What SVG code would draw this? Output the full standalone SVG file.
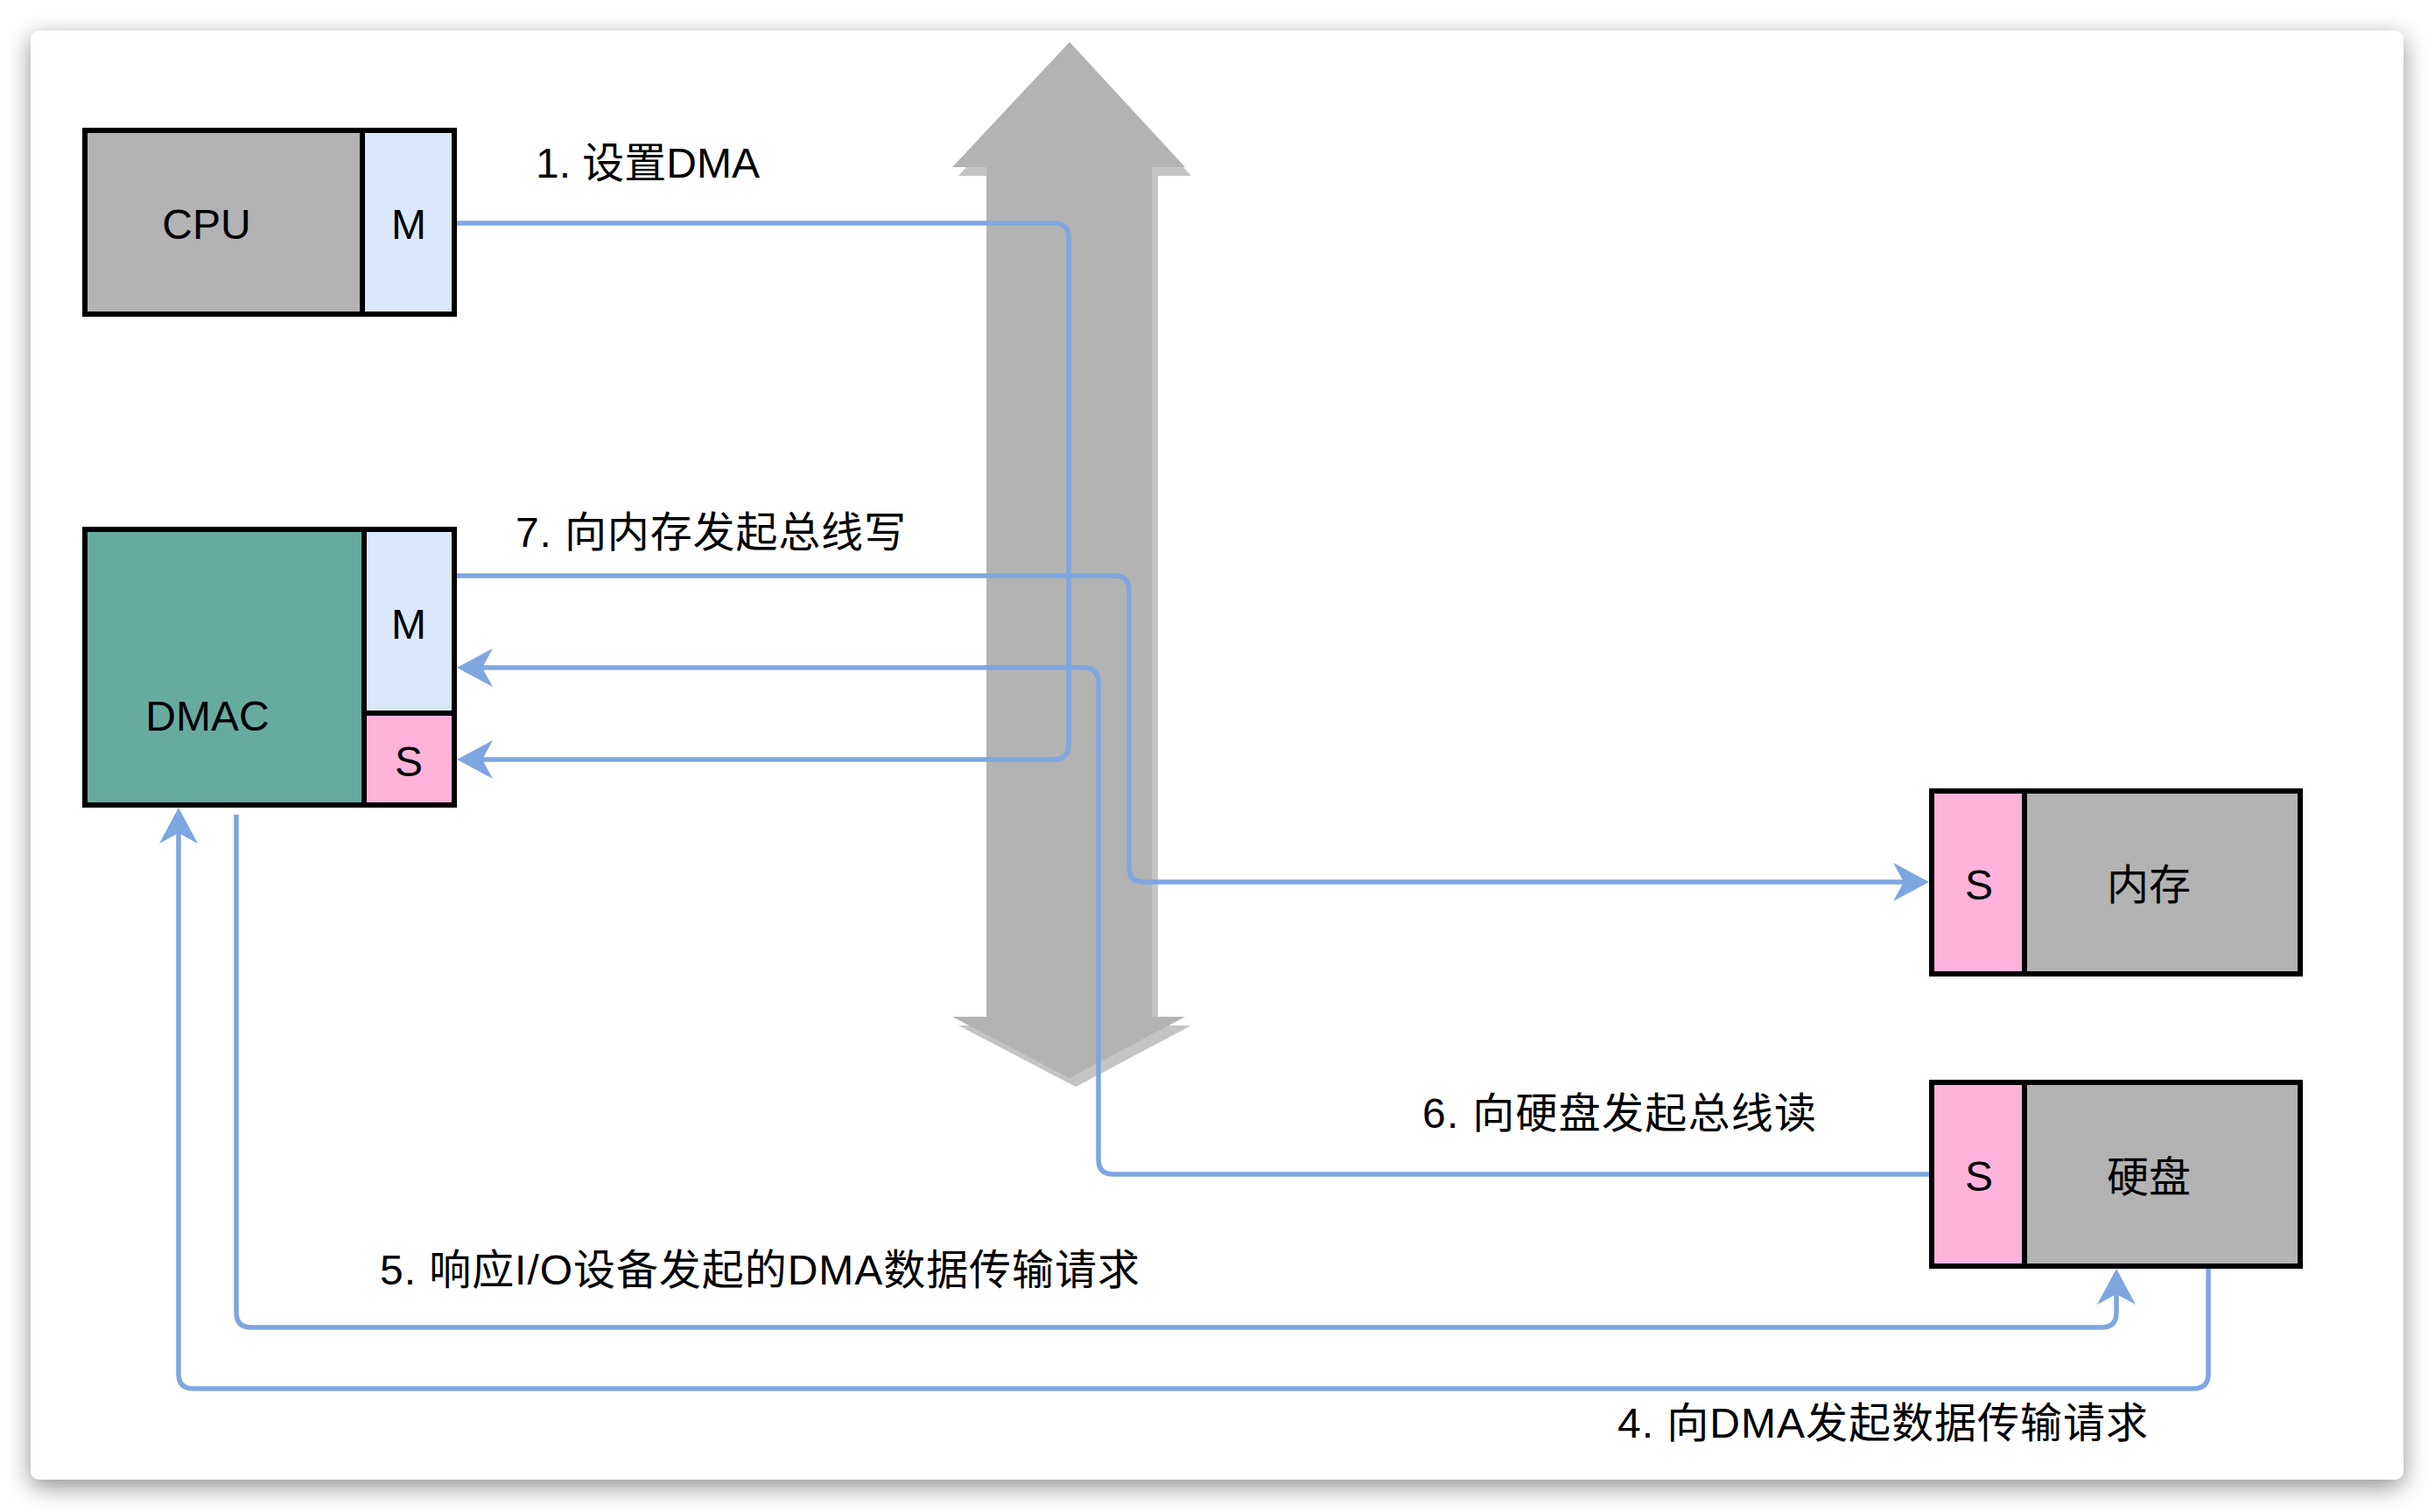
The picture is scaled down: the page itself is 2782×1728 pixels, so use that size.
<svg xmlns="http://www.w3.org/2000/svg" width="2782" height="1728" viewBox="0 0 2782 1728">
  <defs>
    <filter id="cardShadow" x="-5%" y="-5%" width="110%" height="112%">
      <feGaussianBlur in="SourceAlpha" stdDeviation="14"/>
      <feOffset dx="0" dy="8" result="b"/>
      <feComponentTransfer><feFuncA type="linear" slope="0.45"/></feComponentTransfer>
      <feMerge><feMergeNode/><feMergeNode in="SourceGraphic"/></feMerge>
    </filter>
    <marker id="arrow" markerUnits="userSpaceOnUse" viewBox="0 -23 44 46" markerWidth="44" markerHeight="46" refX="14" refY="0" orient="auto">
      <path d="M41,0 L0,-22 L12,0 L0,22 Z" fill="#7ea6e0"/>
    </marker>
    <style>
      .box { stroke: #000; stroke-width: 6; }
      .gray { fill: #b3b3b3; }
      .blue { fill: #dae8fc; }
      .pink { fill: #ffb3da; }
      .teal { fill: #67ab9f; }
      .div { stroke: #000; stroke-width: 6; fill: none; }
      .t { font-family: "Liberation Sans", "Noto Sans CJK SC", sans-serif; font-size: 48px; fill: #000; }
      .c { text-anchor: middle; }
      .conn { fill: none; stroke: #7ea6e0; stroke-width: 5.5; stroke-linejoin: round; }
    </style>
  </defs>

  <rect width="2782" height="1728" fill="#ffffff"/>
  <rect x="35" y="35" width="2711" height="1656" rx="10" fill="#ffffff" filter="url(#cardShadow)"/>

  <g id="bus">
    <polygon fill="#c4c4c4" transform="translate(7,10)" points="1222,48 1354,191 1316,191 1316,1162 1354,1162 1222,1232 1088,1162 1127,1162 1127,191 1088,191"/>
    <polygon fill="#b3b3b3" points="1222,48 1354,191 1316,191 1316,1162 1354,1162 1222,1232 1088,1162 1127,1162 1127,191 1088,191"/>
  </g>

  <g id="cpu">
    <rect x="97" y="149" width="317" height="210" class="gray"/>
    <rect x="414" y="149" width="105" height="210" class="blue"/>
    <rect x="97" y="149" width="422" height="210" class="box" fill="none"/>
    <line x1="414" y1="149" x2="414" y2="359" class="div"/>
    <text x="236" y="273" class="t c">CPU</text>
    <text x="467" y="273" class="t c">M</text>
  </g>

  <g id="dmac">
    <rect x="97" y="605" width="319" height="315" class="teal"/>
    <rect x="416" y="605" width="103" height="210" class="blue"/>
    <rect x="416" y="815" width="103" height="105" class="pink"/>
    <rect x="97" y="605" width="422" height="315" class="box" fill="none"/>
    <line x1="416" y1="605" x2="416" y2="920" class="div"/>
    <line x1="416" y1="815" x2="519" y2="815" class="div"/>
    <text x="237" y="835" class="t c">DMAC</text>
    <text x="467" y="730" class="t c">M</text>
    <text x="467" y="887" class="t c">S</text>
  </g>

  <g id="memory">
    <rect x="2207" y="904" width="106" height="209" class="pink"/>
    <rect x="2313" y="904" width="315" height="209" class="gray"/>
    <rect x="2207" y="904" width="421" height="209" class="box" fill="none"/>
    <line x1="2313" y1="904" x2="2313" y2="1113" class="div"/>
    <text x="2261" y="1028" class="t c">S</text>
    <text x="2455" y="1028" class="t c">内存</text>
  </g>

  <g id="disk">
    <rect x="2207" y="1237" width="106" height="210" class="pink"/>
    <rect x="2313" y="1237" width="315" height="210" class="gray"/>
    <rect x="2207" y="1237" width="421" height="210" class="box" fill="none"/>
    <line x1="2313" y1="1237" x2="2313" y2="1447" class="div"/>
    <text x="2261" y="1361" class="t c">S</text>
    <text x="2455" y="1362" class="t c">硬盘</text>
  </g>

  <g id="connectors">
    <path class="conn" marker-end="url(#arrow)" d="M522,255 H1204 Q1221,255 1221,272 V851 Q1221,868 1204,868 H549"/>
    <path class="conn" marker-end="url(#arrow)" d="M522,658 H1273 Q1290,658 1290,675 V991 Q1290,1008 1307,1008 H2177"/>
    <path class="conn" marker-end="url(#arrow)" d="M2204,1342 H1272 Q1255,1342 1255,1325 V780 Q1255,763 1238,763 H549"/>
    <path class="conn" marker-end="url(#arrow)" d="M270,931 V1500 Q270,1517 287,1517 H2401 Q2418,1517 2418,1500 V1477"/>
    <path class="conn" marker-end="url(#arrow)" d="M2523,1450 V1570 Q2523,1587 2506,1587 H221 Q204,1587 204,1570 V950"/>
  </g>

  <g id="labels">
    <text x="612" y="203" class="t">1. 设置DMA</text>
    <text x="589" y="625" class="t" textLength="446">7. 向内存发起总线写</text>
    <text x="1625" y="1289" class="t" textLength="450">6. 向硬盘发起总线读</text>
    <text x="434" y="1468" class="t" textLength="868">5. 响应I/O设备发起的DMA数据传输请求</text>
    <text x="1848" y="1643" class="t" textLength="606">4. 向DMA发起数据传输请求</text>
  </g>
</svg>
